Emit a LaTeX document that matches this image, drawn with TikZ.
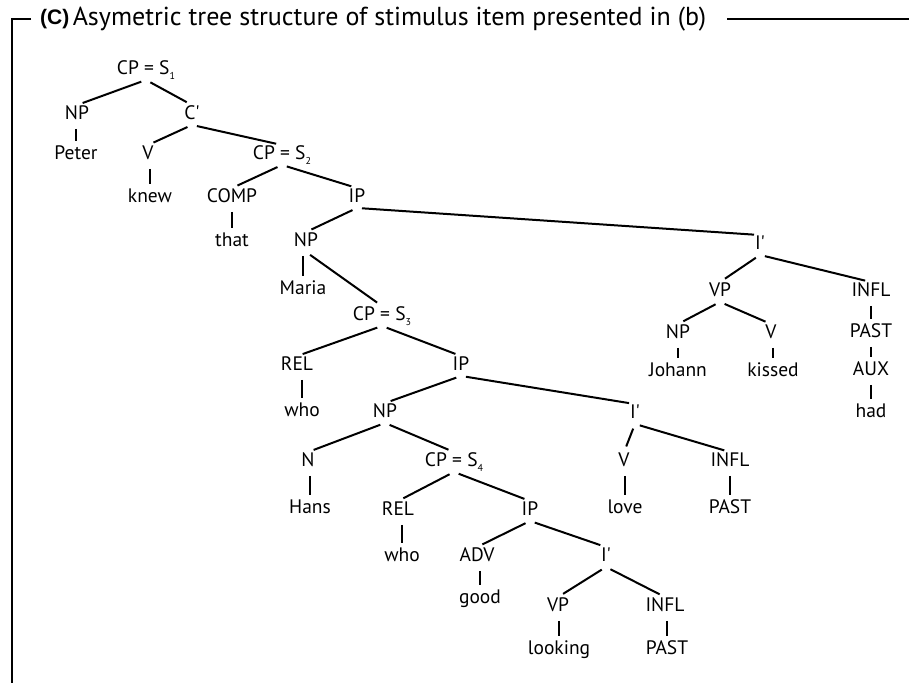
\documentclass[tikz,border=0pt]{standalone}
\usepackage{fontspec}
\setmainfont{PT Sans}
\newfontfamily\labelfont{Liberation Sans}
\usetikzlibrary{positioning}

\newcommand{\sub}[1]{\raisebox{-4.5pt}{\fontsize{10}{10}\selectfont#1}}

\begin{document}
\begin{tikzpicture}[x=1pt,y=-1pt,
    word/.style={font=\fontsize{19.5}{22}\selectfont,inner sep=1pt,text height=13.5pt,text depth=4pt},
    branch/.style={line width=2pt,shorten <=5pt,shorten >=6pt},
    tick/.style={line width=2pt,shorten <=4pt,shorten >=4pt},
    frame/.style={line width=1.1pt}]
    \useasboundingbox (0,0) rectangle (909,683);
    % heading and frame
    \node[anchor=west,inner sep=1pt,font=\labelfont\bfseries\fontsize{21}{24}\selectfont] (lbl) at (39,19) {(C)};
    \node[right=1pt of lbl,inner sep=1pt,font=\fontsize{26}{28}\selectfont] (title) {Asymetric tree structure of stimulus item presented in (b)};
    \coordinate (topleft) at (12,19);
    \coordinate (bottomleft) at (12,683);
    \coordinate (topright) at (909,19);
    \draw[frame,shorten <=8pt] (lbl.west) -- (topleft) -- (bottomleft);
    \draw[frame,shorten <=20pt] (title.east |- topright) -- (topright);
    % main clause
    \node[word] (s1) at (146,70) {CP = S\sub{1}};
    \node[word] (np1) at (77,115) {NP};
    \node[word] (peter) at (76,155) {Peter};
    \node[word] (cbar) at (192,115) {C\textquotesingle};
    \node[word] (v1) at (148,155) {V};
    \node[word] (knew) at (150,198) {knew};
    \node[word] (s2) at (282,155) {CP = S\sub{2}};
    \node[word] (comp) at (232,198) {COMP};
    \node[word] (that) at (232,242) {that};
    \node[word] (ip1) at (357,198) {IP};
    \node[word] (np2) at (306,242) {NP};
    \node[word] (maria) at (303,290) {Maria};
    % first relative clause
    \node[word] (s3) at (382,316) {CP = S\sub{3}};
    \node[word] (rel1) at (297,366) {REL};
    \node[word] (who1) at (302,412) {who};
    \node[word] (ip2) at (461,366) {IP};
    \node[word] (np3) at (385,413) {NP};
    \node[word] (n) at (308,462) {N};
    \node[word] (hans) at (310,509) {Hans};
    % second relative clause
    \node[word] (s4) at (454,462) {CP = S\sub{4}};
    \node[word] (rel2) at (398,511) {REL};
    \node[word] (who2) at (402,557) {who};
    \node[word] (ip3) at (530,511) {IP};
    \node[word] (adv) at (477,557) {ADV};
    \node[word] (good) at (480,599) {good};
    \node[word] (ibar3) at (606,557) {I\textquotesingle};
    \node[word] (vp2) at (558,607) {VP};
    \node[word] (looking) at (559,650) {looking};
    \node[word] (infl3) at (665,607) {INFL};
    \node[word] (past3) at (667,650) {PAST};
    \node[word] (ibar2) at (635,414) {I\textquotesingle};
    \node[word] (v2) at (624,462) {V};
    \node[word] (love) at (625,509) {love};
    \node[word] (infl2) at (730,462) {INFL};
    \node[word] (past2) at (730,509) {PAST};
    % matrix predicate
    \node[word] (ibar1) at (760,245) {I\textquotesingle};
    \node[word] (vp1) at (720,292) {VP};
    \node[word] (infl1) at (871,292) {INFL};
    \node[word] (np4) at (678,334) {NP};
    \node[word] (v3) at (771,334) {V};
    \node[word] (johann) at (678,372) {Johann};
    \node[word] (kissed) at (773,372) {kissed};
    \node[word] (past1) at (871,333) {PAST};
    \node[word] (aux) at (871,371) {AUX};
    \node[word] (had) at (871,413) {had};
    % branches
    \draw[branch] (s1.south) -- (np1.north);
    \draw[branch] (s1.south) -- (cbar.north);
    \draw[branch] (cbar.south) -- (v1.north);
    \draw[branch] (cbar.south) -- (s2.north);
    \draw[branch] (s2.south) -- (comp.north);
    \draw[branch] (s2.south) -- (ip1.north);
    \draw[branch] (ip1.south) -- (np2.north);
    \draw[branch] (ip1.south) -- (ibar1.north);
    \draw[branch] (np2.south) -- (s3.north);
    \draw[branch] (s3.south) -- (rel1.north);
    \draw[branch] (s3.south) -- (ip2.north);
    \draw[branch] (ip2.south) -- (np3.north);
    \draw[branch] (ip2.south) -- (ibar2.north);
    \draw[branch] (np3.south) -- (n.north);
    \draw[branch] (np3.south) -- (s4.north);
    \draw[branch] (s4.south) -- (rel2.north);
    \draw[branch] (s4.south) -- (ip3.north);
    \draw[branch] (ip3.south) -- (adv.north);
    \draw[branch] (ip3.south) -- (ibar3.north);
    \draw[branch] (ibar3.south) -- (vp2.north);
    \draw[branch] (ibar3.south) -- (infl3.north);
    \draw[branch] (ibar2.south) -- (v2.north);
    \draw[branch] (ibar2.south) -- (infl2.north);
    \draw[branch] (ibar1.south) -- (vp1.north);
    \draw[branch] (ibar1.south) -- (infl1.north);
    \draw[branch] (vp1.south) -- (np4.north);
    \draw[branch] (vp1.south) -- (v3.north);
    % unary ticks, kept upright
    \foreach \a/\b in {np1/peter,v1/knew,comp/that,np2/maria,rel1/who1,n/hans,rel2/who2,
        adv/good,vp2/looking,infl3/past3,v2/love,infl2/past2,np4/johann,v3/kissed,
        infl1/past1,past1/aux,aux/had}
        \draw[tick] (\b.north |- \a.south) -- (\b.north);
\end{tikzpicture}
\end{document}
